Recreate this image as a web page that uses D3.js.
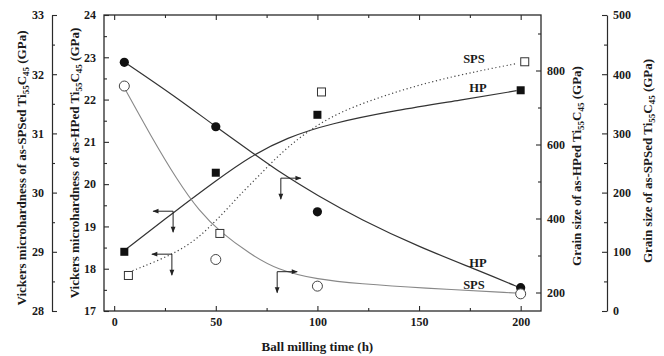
<!DOCTYPE html>
<html>
<head>
<meta charset="utf-8">
<script src="https://cdn.jsdelivr.net/npm/d3@7"></script>
<style>
  body { margin: 0; background: #fff; }
  text { font-family: "Liberation Serif", "Times New Roman", serif; font-weight: bold; fill: #1a1a1a; }
</style>
</head>
<body>
<div id="chart"></div>
<script>
// measured points
const hours = [5, 50, 100, 200];
const spsHours = [7, 52, 102, 202];
const hpHardness = [18.40, 20.27, 21.64, 22.22];
const spsHardness = [28.60, 29.31, 31.70, 32.21];
const hpGrain = [822, 648, 418, 213];
const spsGrain = [380, 87, 42, 29];

// fitted curves
const hpHardFitX = [5, 30, 50, 67, 85, 106, 139, 171, 198];
const hpHardFitY = [18.43, 19.36, 20.08, 20.66, 21.10, 21.43, 21.75, 21.99, 22.21];
const spsHardFitX = [9, 20, 31, 40, 47, 55, 62, 70, 85, 106, 131, 155, 180, 198];
const spsHardFitY = [28.68, 28.83, 29.00, 29.20, 29.42, 29.70, 29.97, 30.24, 30.78, 31.30, 31.62, 31.87, 32.06, 32.18];
const hpGrainFitX = [5, 30, 50, 70, 82, 100, 121, 150, 180, 200];
const hpGrainFitY = [823, 730, 648, 570, 523, 462, 398, 323, 258, 212];
const spsGrainFitX = [5, 18, 31, 42, 52, 67, 80, 100, 121, 150, 200];
const spsGrainFitY = [377, 296, 221, 168, 134, 96, 70, 53, 46, 39, 30];

// arrow anchors (x in h, value on the curve's own axis)
const hpHardArrow = [29, 19.36];
const spsHardArrow = [28.4, 28.96];
const hpGrainArrow = [82, 509];
const spsGrainArrow = [80.2, 66.4];

const xTicks = [0, 50, 100, 150, 200];
const hpHardTicks = [17, 18, 19, 20, 21, 22, 23, 24];
const spsHardTicks = [28, 29, 30, 31, 32, 33];
const hpGrainTicks = [200, 400, 600, 800];
const spsGrainTicks = [0, 100, 200, 300, 400, 500];

const W = 664, H = 356;
const plotL = 104, plotR = 541, plotT = 15, plotB = 311;

const svg = d3.select("#chart").append("svg")
  .attr("width", W).attr("height", H);

const x = d3.scaleLinear().domain([-5, 210]).range([plotL, plotR]);
const yHpHard = d3.scaleLinear().domain([17, 24]).range([plotB, plotT]);
const ySpsHard = d3.scaleLinear().domain([28, 33]).range([plotB, plotT]);
const yHpGrain = d3.scaleLinear().domain([150, 950]).range([plotB, plotT]);
const ySpsGrain = d3.scaleLinear().domain([0, 500]).range([plotB, plotT]);

const ink = "#2a2a2a";
const fmt = d3.format("d");

function styleAxis(g, keepDomain) {
  if (!keepDomain) g.select(".domain").remove();
  g.select(".domain").attr("stroke", ink).attr("stroke-width", 1.2);
  g.selectAll(".tick line").attr("stroke", ink).attr("stroke-width", 1.1);
  g.selectAll(".tick text").style("font-size", "12px").attr("font-family", null).attr("fill", null);
}

function major(axisFn, scale, vals, pad) {
  return axisFn(scale).tickValues(vals).tickFormat(fmt).tickSizeInner(-5).tickSizeOuter(0).tickPadding(pad);
}
function minor(axisFn, scale, vals) {
  return axisFn(scale).tickValues(vals).tickFormat("").tickSizeInner(-3).tickSizeOuter(0);
}

// x axes
svg.append("g").attr("transform", `translate(0,${plotB})`)
  .call(major(d3.axisBottom, x, xTicks, 6)).call(g => styleAxis(g, false));
svg.append("g").attr("transform", `translate(0,${plotB})`)
  .call(minor(d3.axisBottom, x, [25, 75, 125, 175])).call(g => styleAxis(g, false));
svg.append("g").attr("transform", `translate(0,${plotT})`)
  .call(major(d3.axisTop, x, xTicks, 6).tickFormat("")).call(g => styleAxis(g, false));
svg.append("g").attr("transform", `translate(0,${plotT})`)
  .call(minor(d3.axisTop, x, [25, 75, 125, 175])).call(g => styleAxis(g, false));

// inner left (HP hardness)
svg.append("g").attr("transform", `translate(${plotL},0)`)
  .call(major(d3.axisLeft, yHpHard, hpHardTicks, 8)).call(g => styleAxis(g, false));
svg.append("g").attr("transform", `translate(${plotL},0)`)
  .call(minor(d3.axisLeft, yHpHard, d3.range(17.5, 24, 1))).call(g => styleAxis(g, false));

// outer left (SPS hardness)
svg.append("g").attr("transform", "translate(52,0)")
  .call(major(d3.axisLeft, ySpsHard, spsHardTicks, 8)).call(g => styleAxis(g, true));
svg.append("g").attr("transform", "translate(52,0)")
  .call(minor(d3.axisLeft, ySpsHard, d3.range(28.5, 33, 1))).call(g => styleAxis(g, false));

// inner right (HP grain)
svg.append("g").attr("transform", `translate(${plotR},0)`)
  .call(major(d3.axisRight, yHpGrain, hpGrainTicks, 6)).call(g => styleAxis(g, false));
svg.append("g").attr("transform", `translate(${plotR},0)`)
  .call(minor(d3.axisRight, yHpGrain, [300, 500, 700, 900])).call(g => styleAxis(g, false));

// outer right (SPS grain)
svg.append("g").attr("transform", "translate(607,0)")
  .call(major(d3.axisRight, ySpsGrain, spsGrainTicks, 6)).call(g => styleAxis(g, true));
svg.append("g").attr("transform", "translate(607,0)")
  .call(minor(d3.axisRight, ySpsGrain, [50, 150, 250, 350, 450])).call(g => styleAxis(g, false));

// frame
svg.append("rect")
  .attr("x", plotL).attr("y", plotT)
  .attr("width", plotR - plotL).attr("height", plotB - plotT)
  .attr("fill", "none").attr("stroke", ink).attr("stroke-width", 1.3);

// curves
function curve(xs, ys, yScale, stroke, width, dash) {
  const pts = xs.map((d, i) => [d, ys[i]]);
  svg.append("path")
    .datum(pts)
    .attr("fill", "none")
    .attr("stroke", stroke)
    .attr("stroke-width", width)
    .attr("stroke-dasharray", dash)
    .attr("d", d3.line().x(d => x(d[0])).y(d => yScale(d[1])).curve(d3.curveBasis));
}
curve(hpHardFitX, hpHardFitY, yHpHard, "#333", 1.2, null);
curve(spsHardFitX, spsHardFitY, ySpsHard, "#444", 1.2, "1.2,2.6");
curve(hpGrainFitX, hpGrainFitY, yHpGrain, "#333", 1.2, null);
curve(spsGrainFitX, spsGrainFitY, ySpsGrain, "#888", 1.1, null);

// arrows
svg.append("defs").append("marker")
  .attr("id", "head").attr("viewBox", "0 0 10 10")
  .attr("refX", 9).attr("refY", 5)
  .attr("markerWidth", 8).attr("markerHeight", 6)
  .attr("markerUnits", "userSpaceOnUse")
  .attr("orient", "auto")
  .append("path").attr("d", "M0,1 L10,5 L0,9 Z").attr("fill", "#222");

function arrow(a, yScale, dir) {
  const px = x(a[0]), py = yScale(a[1]);
  const g = svg.append("g").attr("stroke", "#222").attr("stroke-width", 1);
  g.append("line").attr("x1", px).attr("y1", py).attr("x2", px + dir * 20).attr("y2", py)
    .attr("marker-end", "url(#head)");
  g.append("line").attr("x1", px).attr("y1", py).attr("x2", px).attr("y2", py + 21)
    .attr("marker-end", "url(#head)");
}
arrow(hpHardArrow, yHpHard, -1);
arrow(spsHardArrow, ySpsHard, -1);
arrow(hpGrainArrow, yHpGrain, 1);
arrow(spsGrainArrow, ySpsGrain, 1);

// markers
svg.selectAll(".hpHard").data(hpHardness).enter().append("rect")
  .attr("x", (d, i) => x(hours[i]) - 4).attr("y", d => yHpHard(d) - 4)
  .attr("width", 8).attr("height", 8).attr("fill", "#111");
svg.selectAll(".spsHard").data(spsHardness).enter().append("rect")
  .attr("x", (d, i) => x(spsHours[i]) - 4).attr("y", d => ySpsHard(d) - 4)
  .attr("width", 8).attr("height", 8).attr("fill", "#fff").attr("stroke", "#333").attr("stroke-width", 1);
svg.selectAll(".hpGrain").data(hpGrain).enter().append("circle")
  .attr("cx", (d, i) => x(hours[i])).attr("cy", d => yHpGrain(d))
  .attr("r", 4.6).attr("fill", "#111");
svg.selectAll(".spsGrain").data(spsGrain).enter().append("circle")
  .attr("cx", (d, i) => x(hours[i])).attr("cy", d => ySpsGrain(d))
  .attr("r", 5).attr("fill", "#fff").attr("stroke", "#444").attr("stroke-width", 1);

// in-plot labels
function label(tx, ty, s) {
  svg.append("text").attr("x", tx).attr("y", ty).attr("text-anchor", "middle")
    .style("font-size", "12.5px").text(s);
}
label(x(177), ySpsHard(32.21) + 1, "SPS");
label(x(179), yHpHard(22.22) + 2, "HP");
label(x(179), yHpGrain(213) - 21, "HP");
label(x(177), ySpsGrain(29) - 5, "SPS");

// titles with subscripts
function title(tx, ty, rot, pre) {
  const t = svg.append("text")
    .attr("transform", `translate(${tx},${ty}) rotate(${rot})`)
    .attr("text-anchor", "middle")
    .style("font-size", "13px");
  t.append("tspan").text(pre + "Ti");
  t.append("tspan").attr("dy", 3).style("font-size", "9px").text("55");
  t.append("tspan").attr("dy", -3).text("C");
  t.append("tspan").attr("dy", 3).style("font-size", "9px").text("45");
  t.append("tspan").attr("dy", -3).text(" (GPa)");
}
title(26, 168, -90, "Vickers microhardness of as-SPSed ");
title(79, 163, -90, "Vickers microhardness of as-HPed ");
title(581, 166, -90, "Grain size of as-HPed ");
title(652, 161, -90, "Grain size of as-SPSed ");

svg.append("text")
  .attr("x", x(100)).attr("y", 351)
  .attr("text-anchor", "middle")
  .style("font-size", "13px")
  .text("Ball milling time (h)");
</script>
</body>
</html>
